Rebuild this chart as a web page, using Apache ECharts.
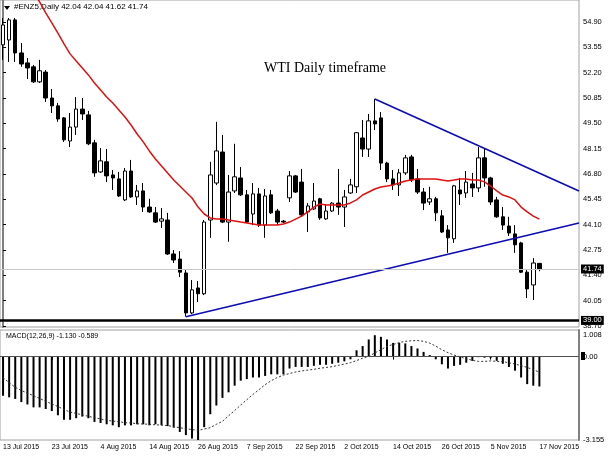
<!DOCTYPE html>
<html><head><meta charset="utf-8">
<script src="https://cdn.jsdelivr.net/npm/echarts@6/dist/echarts.min.js"></script>
<style>html,body{margin:0;padding:0;background:#fff}#c{width:610px;height:457px}</style>
</head><body><div id="c"></div>
<script>
// ---- data ----
const symbolName = '#ENZ5,Daily';
const chartTitle = 'WTI Daily timeframe';
const dates = [
 '13 Jul 2015','14 Jul 2015','15 Jul 2015','16 Jul 2015','17 Jul 2015','20 Jul 2015','21 Jul 2015','22 Jul 2015',
 '23 Jul 2015','24 Jul 2015','27 Jul 2015','28 Jul 2015','29 Jul 2015','30 Jul 2015','31 Jul 2015','3 Aug 2015',
 '4 Aug 2015','5 Aug 2015','6 Aug 2015','7 Aug 2015','10 Aug 2015','11 Aug 2015','12 Aug 2015','13 Aug 2015',
 '14 Aug 2015','17 Aug 2015','18 Aug 2015','19 Aug 2015','20 Aug 2015','21 Aug 2015','24 Aug 2015','25 Aug 2015',
 '26 Aug 2015','27 Aug 2015','28 Aug 2015','31 Aug 2015','1 Sep 2015','2 Sep 2015','3 Sep 2015','4 Sep 2015',
 '7 Sep 2015','8 Sep 2015','9 Sep 2015','10 Sep 2015','11 Sep 2015','14 Sep 2015','15 Sep 2015','21 Sep 2015',
 '22 Sep 2015','23 Sep 2015','24 Sep 2015','25 Sep 2015','28 Sep 2015','29 Sep 2015','30 Sep 2015','1 Oct 2015',
 '2 Oct 2015','5 Oct 2015','6 Oct 2015','7 Oct 2015','8 Oct 2015','9 Oct 2015','12 Oct 2015','13 Oct 2015',
 '14 Oct 2015','15 Oct 2015','16 Oct 2015','19 Oct 2015','20 Oct 2015','21 Oct 2015','22 Oct 2015','23 Oct 2015',
 '26 Oct 2015','27 Oct 2015','28 Oct 2015','29 Oct 2015','30 Oct 2015','2 Nov 2015','3 Nov 2015','4 Nov 2015',
 '5 Nov 2015','6 Nov 2015','9 Nov 2015','10 Nov 2015','11 Nov 2015','12 Nov 2015','13 Nov 2015','16 Nov 2015',
 '17 Nov 2015'
];
const emptySlots = ['','','','','',''];
// [open, close, low, high]
const ohlc = [
 [53.68,54.74,52.88,55.11],[53.94,55.01,52.77,55.11],[55.01,53.25,52.77,55.11],[53.25,52.66,52.51,53.78],
 [52.72,52.45,51.86,52.98],[52.51,51.71,51.65,52.61],[51.71,52.30,51.65,52.88],[52.23,50.85,50.64,52.34],
 [50.85,50.43,50.05,51.33],[50.43,49.73,49.58,50.59],[49.79,48.62,48.51,49.84],[48.56,49.30,48.24,50.05],
 [49.30,50.26,48.88,50.90],[50.26,50.00,49.68,50.85],[49.95,48.41,48.34,50.16],[48.46,46.86,46.65,48.62],
 [46.91,47.50,46.86,48.18],[47.45,46.70,46.37,48.13],[46.75,46.59,45.95,47.01],[46.54,45.63,45.58,46.91],
 [45.42,46.96,45.36,47.12],[46.96,45.58,45.53,47.55],[45.58,45.90,45.15,46.22],[45.90,45.04,44.78,46.32],
 [45.04,44.78,44.73,45.48],[44.73,44.24,44.19,45.04],[44.29,44.41,43.93,44.99],[44.35,42.54,42.49,44.73],
 [42.54,42.22,42.06,42.75],[42.27,41.57,41.31,42.69],[41.53,39.40,39.20,41.69],[39.40,40.63,39.34,41.15],
 [40.73,40.42,39.98,41.10],[40.42,44.24,40.35,44.35],[44.35,46.75,43.40,47.45],[46.32,48.03,46.21,49.58],
 [47.97,44.24,44.19,48.88],[44.24,45.84,43.19,46.75],[45.90,46.65,45.79,48.41],[46.59,45.69,45.63,47.17],
 [45.69,44.24,44.19,45.95],[44.67,45.74,44.08,46.32],[45.74,44.08,43.98,46.06],[44.08,45.63,43.40,46.00],
 [45.69,44.73,44.67,45.95],[44.83,44.24,44.08,44.94],[44.29,44.24,44.19,44.35],[45.53,46.70,45.31,46.96],
 [46.70,45.84,45.79,46.75],[46.37,44.62,44.52,47.07],[44.78,45.10,43.71,45.25],[44.94,45.36,44.88,46.32],
 [45.48,44.46,44.36,45.53],[44.41,44.83,44.36,45.20],[44.83,45.25,44.78,45.31],[45.25,45.04,44.62,47.07],
 [45.04,45.58,43.98,45.95],[45.79,46.22,45.74,46.54],[46.12,49.00,45.79,49.04],[48.72,48.13,47.71,49.68],
 [48.13,49.63,47.71,50.00],[49.63,49.47,49.14,50.80],[49.79,47.38,47.01,50.10],[47.38,46.54,46.37,47.45],
 [46.54,46.22,45.95,47.01],[46.22,46.86,45.63,47.07],[46.86,47.66,46.75,47.82],[47.71,46.49,46.37,47.82],
 [46.54,45.84,45.74,47.07],[45.84,45.25,44.88,46.06],[45.31,45.48,45.15,46.12],[45.48,44.73,44.29,45.58],
 [44.57,43.71,43.66,44.88],[43.82,43.40,42.60,44.08],[43.35,46.17,43.13,46.22],[45.95,45.74,45.15,46.59],
 [45.79,46.37,45.53,46.96],[46.27,46.06,45.58,46.86],[46.06,47.66,45.84,48.24],[47.66,46.59,46.12,48.18],
 [46.59,45.31,45.15,46.65],[45.42,44.52,44.46,45.58],[44.52,44.08,43.82,45.04],[44.03,43.66,43.50,44.52],
 [43.61,43.03,42.60,44.08],[43.13,41.57,41.52,43.19],[41.57,40.68,40.19,41.68],[40.89,42.06,40.09,42.32],
 [42.04,41.74,41.62,42.04]
];
const movingAvg = [
 null,null,null,null,null,56.50,55.97,55.38,54.85,54.31,53.73,53.20,52.82,52.45,52.08,51.65,
 51.28,50.90,50.58,50.21,49.84,49.41,48.93,48.51,48.03,47.60,47.23,46.85,46.48,46.16,45.84,45.52,
 45.04,44.67,44.46,44.40,44.40,44.35,44.30,44.24,44.19,44.14,44.08,44.08,44.08,44.08,44.14,44.24,
 44.40,44.56,44.78,45.04,45.20,45.15,45.15,45.15,45.15,45.26,45.42,45.68,45.84,46.00,46.11,46.16,
 46.22,46.32,46.43,46.48,46.54,46.54,46.54,46.54,46.48,46.43,46.48,46.54,46.54,46.48,46.48,46.38,
 46.16,45.90,45.68,45.58,45.42,45.04,44.78,44.56,44.40
];
const macdMain = [
 -1.48,-1.54,-1.60,-1.72,-1.81,-1.92,-1.92,-1.98,-2.06,-2.22,-2.39,-2.39,-2.33,-2.27,-2.33,-2.47,
 -2.51,-2.56,-2.60,-2.67,-2.60,-2.60,-2.56,-2.56,-2.60,-2.56,-2.60,-2.63,-2.69,-2.85,-2.97,-3.10,
 -3.155,-2.67,-2.18,-1.85,-1.56,-1.35,-1.10,-0.91,-0.85,-0.79,-0.79,-0.73,-0.67,-0.67,-0.67,-0.45,
 -0.39,-0.39,-0.39,-0.35,-0.31,-0.31,-0.27,-0.23,-0.18,-0.10,0.24,0.40,0.65,0.81,0.75,0.65,
 0.52,0.52,0.50,0.40,0.31,0.18,0.06,-0.10,-0.29,-0.45,-0.35,-0.31,-0.23,-0.16,-0.02,-0.04,
 -0.06,-0.16,-0.27,-0.39,-0.53,-0.79,-1.04,-1.10,-1.130
];
const macdSignal = [
 -0.79,-0.99,-1.16,-1.28,-1.38,-1.48,-1.58,-1.69,-1.79,-1.89,-2.00,-2.10,-2.15,-2.20,-2.26,-2.31,
 -2.36,-2.41,-2.44,-2.46,-2.50,-2.51,-2.54,-2.55,-2.56,-2.58,-2.59,-2.61,-2.65,-2.69,-2.73,-2.76,
 -2.79,-2.74,-2.69,-2.56,-2.45,-2.24,-2.04,-1.83,-1.63,-1.43,-1.25,-1.06,-0.91,-0.79,-0.70,-0.64,
 -0.58,-0.54,-0.51,-0.48,-0.44,-0.41,-0.38,-0.33,-0.28,-0.23,-0.15,-0.06,0.01,0.14,0.26,0.39,
 0.46,0.53,0.58,0.60,0.61,0.58,0.51,0.40,0.26,0.15,0.06,-0.01,-0.08,-0.14,-0.18,-0.18,
 -0.16,-0.18,-0.19,-0.23,-0.28,-0.34,-0.41,-0.49,-0.589
];
const priceTicks = [38.70,40.05,41.40,42.75,44.10,45.45,46.80,48.15,49.50,50.85,52.20,53.55,54.90];
const macdTicks = [1.008, 0, -3.155];
const upperTrend = [[61, 50.80], [94.5, 45.90]];
const lowerTrend = [[30, 39.20], [94.5, 44.19]];
const supportLevel = 39.00;
const lastPrice = 41.74;

// ---- chart ----
const cats = dates.concat(emptySlots);
const last = ohlc[ohlc.length - 1];
const headerText = symbolName + ' ' + [last[0], last[3], last[2], last[1]].map(v => v.toFixed(2)).join(' ');
const macdText = 'MACD(12,26,9) ' + macdMain[macdMain.length - 1].toFixed(3) + ' ' + macdSignal[macdSignal.length - 1].toFixed(3);
const FONT = 'Liberation Sans';
const boxLabel = {
  show: true, position: 'end', distance: 2, formatter: p => p.value.toFixed(2),
  backgroundColor: '#000', color: '#fff', padding: [1, 2, 0, 2], fontSize: 7.5, fontFamily: FONT
};

const chart = echarts.init(document.getElementById('c'), null, {renderer: 'canvas'});
chart.setOption({
  animation: false,
  backgroundColor: '#fff',
  grid: [
    {left: 0, top: 0, width: 579, height: 327, show: true, borderColor: '#a0a0a0', borderWidth: 1},
    {left: 0, top: 330, width: 579, height: 110, show: true, borderColor: '#a0a0a0', borderWidth: 1}
  ],
  xAxis: [
    {type: 'category', gridIndex: 0, data: cats, boundaryGap: true,
     axisLine: {show: false}, axisTick: {show: false}, axisLabel: {show: false}, splitLine: {show: false}},
    {type: 'category', gridIndex: 1, data: cats, boundaryGap: true,
     axisLine: {show: true, lineStyle: {color: '#808080', width: 1}},
     axisTick: {show: true, interval: 7, alignWithLabel: true, length: 3, lineStyle: {color: '#000'}},
     axisLabel: {interval: 7, align: 'left', fontSize: 7, color: '#000', margin: 4, fontFamily: FONT},
     splitLine: {show: false}},
    {type: 'value', gridIndex: 0, min: -0.5, max: 94.5, show: false}
  ],
  yAxis: [
    {type: 'value', gridIndex: 0, position: 'right', min: 38.65, max: 56.07, scale: true,
     axisLine: {show: true, lineStyle: {color: '#808080', width: 2}},
     axisTick: {show: true, length: 3, customValues: priceTicks, lineStyle: {color: '#000'}},
     axisLabel: {customValues: priceTicks, formatter: v => v.toFixed(2), fontSize: 7.5, color: '#000', margin: 4, fontFamily: FONT},
     splitLine: {show: false}},
    {type: 'value', gridIndex: 1, position: 'right', min: -3.155, max: 1.008, scale: true,
     axisLine: {show: true, lineStyle: {color: '#808080', width: 2}},
     axisTick: {show: false},
     axisLabel: {customValues: macdTicks, fontSize: 7.5, color: '#000', margin: 4, fontFamily: FONT,
       formatter: v => v === 0 ? '0.00' : (v > 0 ? '{t|' + v.toFixed(3) + '}' : v.toFixed(3)),
       rich: {t: {padding: [9, 0, 0, 0], fontSize: 7.5, fontFamily: FONT, color: '#000'}}},
     splitLine: {show: false}}
  ],
  series: [
    {type: 'candlestick', xAxisIndex: 0, yAxisIndex: 0, data: ohlc, barWidth: 4, silent: true,
     itemStyle: {color: '#fff', color0: '#000', borderColor: '#000', borderColor0: '#000', borderWidth: 1},
     markLine: {symbol: 'none', silent: true, animation: false, data: [
       {yAxis: lastPrice, lineStyle: {color: '#c8c8c8', width: 1, type: 'solid'}, label: boxLabel},
       {yAxis: supportLevel, lineStyle: {color: '#000', width: 2.5, type: 'solid'}, label: boxLabel}
     ]}},
    {type: 'line', xAxisIndex: 0, yAxisIndex: 0, data: movingAvg, symbol: 'none', silent: true,
     lineStyle: {color: '#e01010', width: 1.5}},
    {type: 'line', xAxisIndex: 2, yAxisIndex: 0, data: upperTrend, symbol: 'none', silent: true,
     lineStyle: {color: '#0c0cb4', width: 1.6}},
    {type: 'line', xAxisIndex: 2, yAxisIndex: 0, data: lowerTrend, symbol: 'none', silent: true,
     lineStyle: {color: '#0c0cb4', width: 1.6}},
    {type: 'bar', xAxisIndex: 1, yAxisIndex: 1, data: macdMain, barWidth: 2, silent: true,
     itemStyle: {color: '#000'},
     markLine: {symbol: 'none', silent: true, label: {show: false},
       data: [{yAxis: 0, lineStyle: {color: '#505050', width: 1.2, type: 'solid'}}]}},
    {type: 'line', xAxisIndex: 1, yAxisIndex: 1, data: macdSignal, symbol: 'none', silent: true,
     lineStyle: {color: '#333', width: 1, type: [2, 2]}}
  ],
  graphic: [
    {type: 'polygon', shape: {points: [[4, 6], [10, 6], [7, 10]]}, style: {fill: '#000'}},
    {type: 'text', left: 14, top: 3, style: {text: headerText, fontSize: 8, fontFamily: FONT, fill: '#000'}},
    {type: 'text', x: 325, y: 68, style: {text: chartTitle, fontSize: 14, fontFamily: 'Liberation Serif', fill: '#000', align: 'center', verticalAlign: 'middle'}},
    {type: 'text', left: 6, top: 333, style: {text: macdText, fontSize: 7, fontFamily: FONT, fill: '#000'}},
    {type: 'rect', shape: {x: 581, y: 352, width: 4, height: 8}, style: {fill: '#000'}}
  ]
});
</script></body></html>
